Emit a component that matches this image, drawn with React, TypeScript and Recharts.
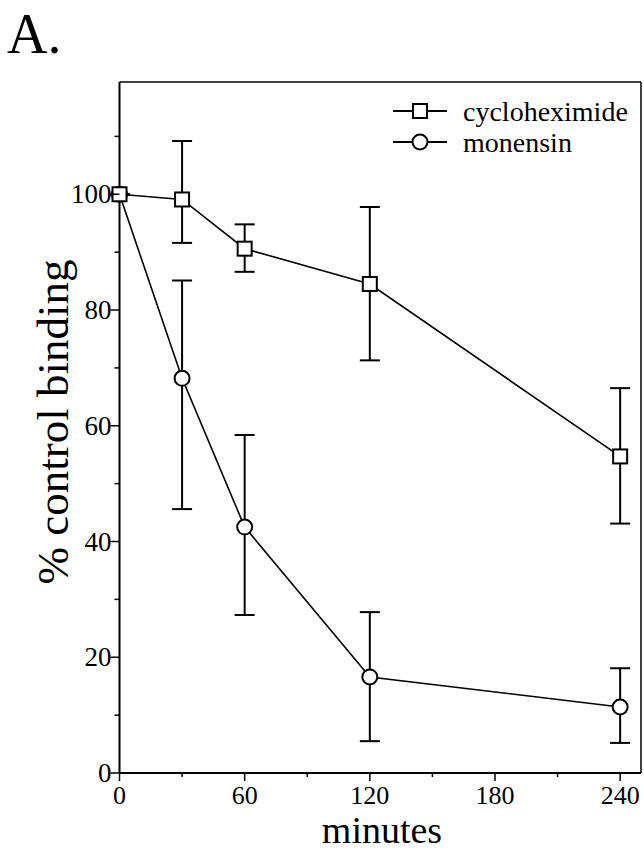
import React from "react";
import { LineChart, Line, XAxis, YAxis, ErrorBar, ReferenceLine } from "recharts";

const minutes = [0, 30, 60, 120, 240];
const cycloheximide = [100, 99.1, 90.6, 84.5, 54.7];
const cycloErrLow = [0, 7.5, 4.0, 13.2, 11.6];
const cycloErrHigh = [0, 10.1, 4.2, 13.3, 11.8];
const monensin = [100, 68.2, 42.5, 16.6, 11.4];
const monErrLow = [0, 22.6, 15.2, 11.1, 6.2];
const monErrHigh = [0, 16.9, 15.9, 11.2, 6.7];

const xTicks = [0, 30, 60, 90, 120, 150, 180, 210, 240];
const xLabelTicks = [0, 60, 120, 180, 240];
const yTicks = [0, 10, 20, 30, 40, 50, 60, 70, 80, 90, 100, 110];
const yLabelTicks = [0, 20, 40, 60, 80, 100];
const seriesNames = ["cycloheximide", "monensin"];

const data = minutes.map((m, i) => ({
  minutes: m,
  cycloheximide: cycloheximide[i],
  cycloErr: [cycloErrLow[i], cycloErrHigh[i]],
  monensin: monensin[i],
  monErr: [monErrLow[i], monErrHigh[i]],
}));

const FONT = "'Liberation Serif', 'Times New Roman', Times, serif";
const txt = { fontFamily: FONT };

const YTick = (props: any) => {
  const { x, y, payload } = props;
  const major = yLabelTicks.includes(payload.value);
  return (
    <g>
      <line x1={x} x2={x - (major ? 9 : 5)} y1={y} y2={y} stroke="#000" strokeWidth={1.5} />
      {major && (
        <text x={x - 8} y={y} textAnchor="end" dominantBaseline="central" fontSize={27} style={txt} fill="#000">
          {payload.value}
        </text>
      )}
    </g>
  );
};

const XTick = (props: any) => {
  const { x, y, payload } = props;
  const major = xLabelTicks.includes(payload.value);
  return (
    <g>
      <line x1={x} x2={x} y1={y} y2={y + (major ? 8 : 4)} stroke="#000" strokeWidth={1.5} />
      {major && (
        <text x={x} y={y + 31} textAnchor="middle" fontSize={26} style={txt} fill="#000">
          {payload.value}
        </text>
      )}
    </g>
  );
};

const SquareDot = (props: any) => {
  const { cx, cy } = props;
  if (cx == null || cy == null) return null;
  return <rect x={cx - 7} y={cy - 7} width={14} height={14} fill="#fff" stroke="#000" strokeWidth={2} />;
};

const CircleDot = (props: any) => {
  const { cx, cy } = props;
  if (cx == null || cy == null) return null;
  return <circle cx={cx} cy={cy} r={7.5} fill="#fff" stroke="#000" strokeWidth={2} />;
};

export default function App() {
  return (
    <div style={{ position: "absolute", left: 0, top: 0, width: 644, height: 852, background: "#fff", fontFamily: FONT }}>
      <div style={{ position: "absolute", left: 7, top: 6, fontSize: 56, lineHeight: "56px", color: "#000", fontFamily: FONT }}>A.</div>
      <LineChart width={644} height={852} data={data} margin={{ top: 82, right: 3, bottom: 0, left: 0 }}>
        <XAxis
          dataKey="minutes"
          type="number"
          domain={[0, 250]}
          ticks={xTicks}
          interval={0}
          tickLine={false}
          tickSize={0}
          tickMargin={0}
          tick={<XTick />}
          height={79}
          axisLine={{ stroke: "#000", strokeWidth: 2 }}
          label={{
            content: () => (
              <text x={382} y={843} textAnchor="middle" fontSize={38} style={txt} fill="#000">minutes</text>
            ),
          }}
        />
        <YAxis
          type="number"
          domain={[0, 119.4]}
          ticks={yTicks}
          interval={0}
          tickLine={false}
          tickSize={0}
          tickMargin={0}
          tick={<YTick />}
          width={119.5}
          axisLine={{ stroke: "#000", strokeWidth: 2 }}
          label={{
            content: () => (
              <text x={53} y={422} transform="rotate(-90 53 422)" textAnchor="middle" dominantBaseline="central" fontSize={45} style={txt} fill="#000">
                % control binding
              </text>
            ),
          }}
        />
        <ReferenceLine y={119.4} stroke="#000" strokeWidth={1.5} />
        <ReferenceLine x={250} stroke="#000" strokeWidth={1.5} />
        <Line
          dataKey="monensin"
          stroke="#000"
          strokeWidth={1.6}
          isAnimationActive={false}
          dot={<CircleDot />}
          activeDot={false}
        >
          <ErrorBar dataKey="monErr" direction="y" width={10} stroke="#000" strokeWidth={2} />
        </Line>
        <Line
          dataKey="cycloheximide"
          stroke="#000"
          strokeWidth={1.6}
          isAnimationActive={false}
          dot={<SquareDot />}
          activeDot={false}
        >
          <ErrorBar dataKey="cycloErr" direction="y" width={10} stroke="#000" strokeWidth={2} />
        </Line>
      </LineChart>
      <svg style={{ position: "absolute", left: 390, top: 95 }} width={254} height={66}>
        <line x1={3} x2={57} y1={16} y2={16} stroke="#000" strokeWidth={2} />
        <rect x={23} y={9} width={14} height={14} fill="#fff" stroke="#000" strokeWidth={2} />
        <text x={73} y={16} dominantBaseline="central" fontSize={28} style={txt} fill="#000">{seriesNames[0]}</text>
        <line x1={3} x2={57} y1={47} y2={47} stroke="#000" strokeWidth={2} />
        <circle cx={30} cy={47} r={7.5} fill="#fff" stroke="#000" strokeWidth={2} />
        <text x={73} y={47} dominantBaseline="central" fontSize={28} style={txt} fill="#000">{seriesNames[1]}</text>
      </svg>
    </div>
  );
}
